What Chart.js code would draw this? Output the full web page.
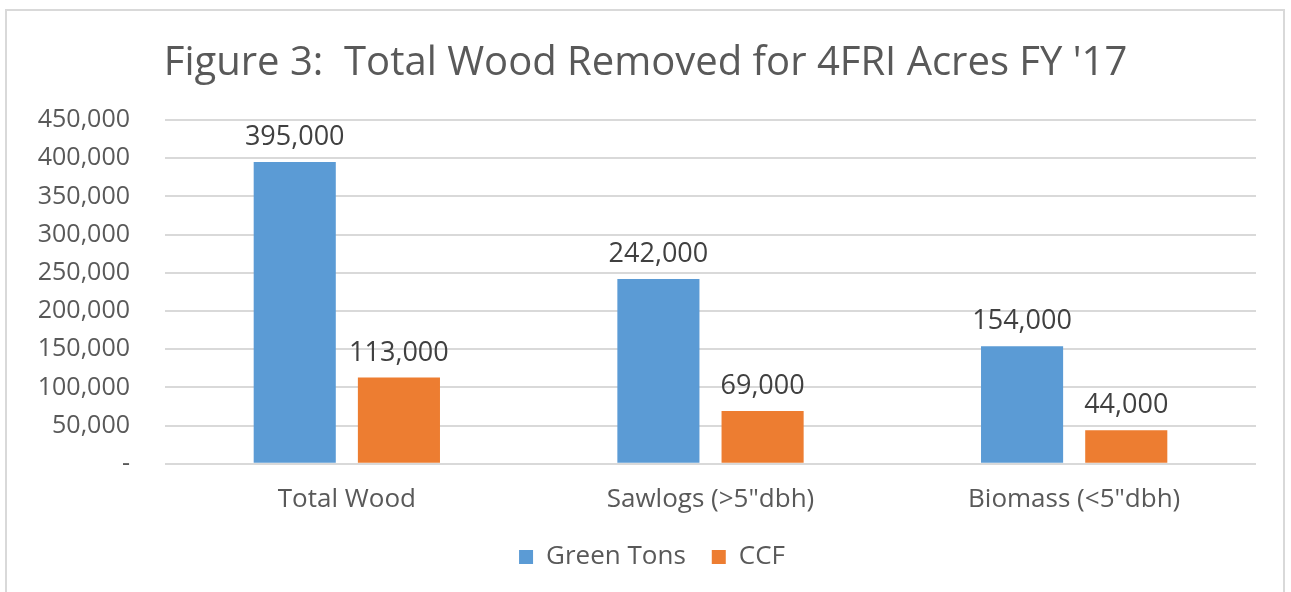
<!DOCTYPE html>
<html>
<head>
<meta charset="utf-8">
<script src="https://cdn.jsdelivr.net/npm/chart.js@4"></script>
<style>
    html, body { margin: 0; padding: 0; background: #fff; }
    #marco {
        position: absolute; left: 5px; top: 9px; width: 1280px; height: 600px;
        border: 2px solid #d9d9d9; box-sizing: border-box;
    }
    #lienzo { position: absolute; left: 0; top: 0; width: 1291px; height: 592px; }
</style>
</head>
<body>
<div id="marco"></div>
<div id="lienzo"><canvas id="grafico"></canvas></div>
<script>
const categorias = ['Total Wood', 'Sawlogs (>5"dbh)', 'Biomass (<5"dbh)'];
const greenTons  = [395000, 242000, 154000];
const ccf        = [113000, 69000, 44000];
const titulo     = "Figure 3:  Total Wood Removed for 4FRI Acres FY '17";

const gris = '#595959';
const fuente = '"Open Sans", sans-serif';

function formato(v) {
    return v === 0 ? '-' : v.toLocaleString('en-US');
}

const etiquetasValores = {
    id: 'etiquetasValores',
    afterDatasetsDraw(chart) {
        const ctx = chart.ctx;
        ctx.save();
        ctx.font = '27px ' + fuente;
        ctx.fillStyle = '#404040';
        ctx.textAlign = 'center';
        ctx.textBaseline = 'bottom';
        chart.data.datasets.forEach((ds, i) => {
            chart.getDatasetMeta(i).data.forEach((bar, j) => {
                ctx.fillText(formato(ds.data[j]), bar.x, bar.y - 11);
            });
        });
        ctx.restore();
    }
};

// centra titulo y leyenda sobre todo el lienzo, como en el original
const centrarCajas = {
    id: 'centrarCajas',
    afterLayout(chart) {
        chart.titleBlock.left = 0;
        chart.titleBlock.right = chart.width;
        const lg = chart.legend;
        lg.left += 24;
        lg.right += 24;
        lg.top -= 9;
        lg.bottom -= 9;
    }
};

new Chart(document.getElementById('grafico'), {
    type: 'bar',
    data: {
        labels: categorias,
        datasets: [
            { label: 'Green Tons', data: greenTons, backgroundColor: '#5B9BD5' },
            { label: 'CCF', data: ccf, backgroundColor: '#ED7D31' }
        ]
    },
    options: {
        responsive: true,
        maintainAspectRatio: false,
        animation: false,
        categoryPercentage: 0.573,
        barPercentage: 0.788,
        layout: { padding: { left: 0, right: 35, top: 0, bottom: 3 } },
        plugins: {
            title: {
                display: true,
                text: titulo,
                color: gris,
                font: { family: fuente, size: 40, weight: 'normal' },
                padding: { top: 40, bottom: 32 }
            },
            legend: {
                position: 'bottom',
                labels: {
                    color: gris,
                    font: { family: fuente, size: 26 },
                    boxWidth: 14,
                    boxHeight: 14,
                    padding: 26
                }
            },
            tooltip: { enabled: false }
        },
        scales: {
            x: {
                grid: { display: false },
                border: { display: false },
                ticks: { color: gris, font: { family: fuente, size: 26 }, padding: 12 }
            },
            y: {
                min: 0,
                max: 450000,
                afterFit: (scale) => { scale.width = 165; },
                grid: { color: '#d9d9d9', lineWidth: 2, drawTicks: false },
                border: { display: false },
                ticks: {
                    stepSize: 50000,
                    color: gris,
                    padding: 35,
                    font: { family: fuente, size: 25 },
                    callback: (v) => formato(v)
                }
            }
        }
    },
    plugins: [etiquetasValores, centrarCajas]
});
</script>
</body>
</html>
